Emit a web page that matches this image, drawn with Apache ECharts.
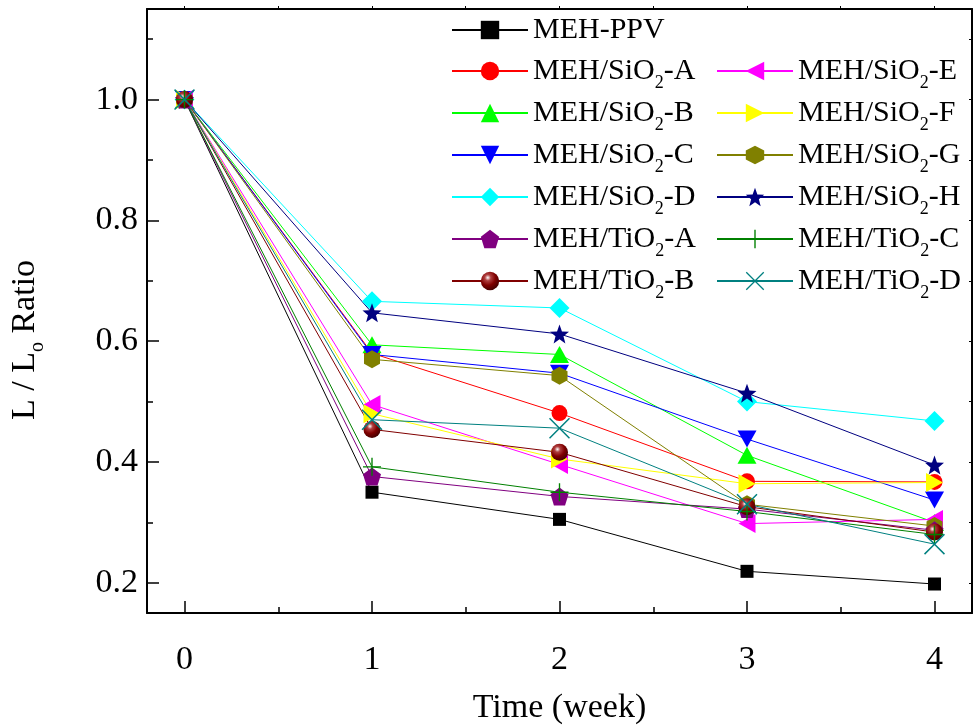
<!DOCTYPE html>
<html>
<head>
<meta charset="utf-8">
<script src="https://cdn.jsdelivr.net/npm/echarts@6/dist/echarts.min.js"></script>
<style>
  html, body { margin: 0; padding: 0; background: #fff; }
  #chart { width: 975px; height: 726px; }
</style>
</head>
<body>
<div id="chart"></div>
<script>
// Luminance decay of MEH-PPV and its SiO2 / TiO2 composites over four weeks
const weeks = [0, 1, 2, 3, 4];
const xTicks = [0, 1, 2, 3, 4];
const xMinorTicks = [0.5, 1.5, 2.5, 3.5];
const yTicks = [0.2, 0.4, 0.6, 0.8, 1.0];
const yMinorTicks = [0.3, 0.5, 0.7, 0.9, 1.1];

const mehPpv = [1.0, 0.350, 0.305, 0.219, 0.198];
const sio2A  = [1.0, 0.580, 0.481, 0.368, 0.367];
const sio2B  = [1.0, 0.594, 0.578, 0.411, 0.300];
const sio2C  = [1.0, 0.578, 0.547, 0.438, 0.337];
const sio2D  = [1.0, 0.666, 0.655, 0.500, 0.468];
const sio2E  = [1.0, 0.495, 0.396, 0.298, 0.305];
const sio2F  = [1.0, 0.480, 0.405, 0.364, 0.366];
const sio2G  = [1.0, 0.570, 0.543, 0.330, 0.294];
const sio2H  = [1.0, 0.647, 0.612, 0.514, 0.395];
const tio2A  = [1.0, 0.376, 0.343, 0.322, 0.287];
const tio2B  = [1.0, 0.454, 0.416, 0.326, 0.284];
const tio2C  = [1.0, 0.392, 0.350, 0.318, 0.280];
const tio2D  = [1.0, 0.470, 0.456, 0.330, 0.264];

const FONT = '"Liberation Serif", "Times New Roman", serif';

// polygon symbol paths
function polygonPath(n, innerRatio) {
  const pts = [];
  const count = innerRatio ? n * 2 : n;
  for (let i = 0; i < count; i++) {
    const r = innerRatio && i % 2 === 1 ? innerRatio : 1;
    const a = -Math.PI / 2 + i * Math.PI * 2 / count;
    pts.push(((1 + r * Math.cos(a)) * 50).toFixed(2) + ',' + ((1 + r * Math.sin(a)) * 50).toFixed(2));
  }
  return 'path://M' + pts.join(' L') + ' Z';
}
const STAR = polygonPath(5, 0.42);
const PENTAGON = polygonPath(5);
const HEXAGON = 'path://M0.5,0 L1,0.25 L1,0.75 L0.5,1 L0,0.75 L0,0.25 Z';
const TRI_DOWN = 'path://M0,0 L1,0 L0.5,1 Z';
const TRI_LEFT = 'path://M0,0.5 L1,0 L1,1 Z';
const TRI_RIGHT = 'path://M0,0 L1,0.5 L0,1 Z';
const PLUS = 'path://M9.25,0 L10.75,0 L10.75,9.25 L20,9.25 L20,10.75 L10.75,10.75 L10.75,20 L9.25,20 L9.25,10.75 L0,10.75 L0,9.25 L9.25,9.25 Z';
const CROSS = 'path://M0,1 L1,0 L10,9 L19,0 L20,1 L11,10 L20,19 L19,20 L10,11 L1,20 L0,19 L9,10 Z';

const sphere = {
  type: 'radial', x: 0.38, y: 0.32, r: 0.75,
  colorStops: [
    { offset: 0, color: '#ffffff' },
    { offset: 0.22, color: '#b04040' },
    { offset: 0.55, color: '#800000' },
    { offset: 1, color: '#3a0000' }
  ]
};

const seriesDefs = [
  { name: 'MEH-PPV',    values: mehPpv, color: '#000000', symbol: 'rect',     size: 13 },
  { name: 'MEH/SiO2-A', values: sio2A,  color: '#ff0000', symbol: 'circle',   size: 16 },
  { name: 'MEH/SiO2-B', values: sio2B,  color: '#00ff00', symbol: 'triangle', size: [19, 17] },
  { name: 'MEH/SiO2-C', values: sio2C,  color: '#0000ff', symbol: TRI_DOWN,   size: [19, 17] },
  { name: 'MEH/SiO2-D', values: sio2D,  color: '#00ffff', symbol: 'diamond',  size: [20, 20] },
  { name: 'MEH/SiO2-E', values: sio2E,  color: '#ff00ff', symbol: TRI_LEFT,   size: [17, 19] },
  { name: 'MEH/SiO2-F', values: sio2F,  color: '#ffff00', symbol: TRI_RIGHT,  size: [17, 19] },
  { name: 'MEH/SiO2-G', values: sio2G,  color: '#808000', symbol: HEXAGON,    size: [16, 18] },
  { name: 'MEH/SiO2-H', values: sio2H,  color: '#000080', symbol: STAR,       size: 19 },
  { name: 'MEH/TiO2-A', values: tio2A,  color: '#800080', symbol: PENTAGON,   size: 18 },
  { name: 'MEH/TiO2-B', values: tio2B,  color: '#800000', symbol: 'circle',   size: 17, fill: sphere },
  { name: 'MEH/TiO2-C', values: tio2C,  color: '#008000', symbol: PLUS,       size: 18 },
  { name: 'MEH/TiO2-D', values: tio2D,  color: '#008080', symbol: CROSS,      size: 21 }
];

const series = seriesDefs.map(d => ({
  name: d.name,
  type: 'line',
  xAxisIndex: 0,
  yAxisIndex: 0,
  data: weeks.map((w, i) => [w, d.values[i]]),
  symbol: d.symbol,
  symbolSize: d.size,
  showAllSymbol: true,
  color: d.color,
  lineStyle: { color: d.color, width: 1 },
  itemStyle: { color: d.fill || d.color, borderWidth: 0, opacity: 1 },
  emphasis: { disabled: true },
  z: 3
}));

const legendText = {
  fontFamily: FONT,
  fontSize: 30,
  color: '#000',
  lineHeight: 40,
  rich: {
    sub: { fontFamily: FONT, fontSize: 18, lineHeight: 18, padding: [24, 0, 0, 0], color: '#000' }
  }
};
const legendFormatter = name => name.replace('O2', 'O{sub|2}');

const legendBase = {
  orient: 'vertical',
  padding: 0,
  itemGap: 0,
  itemWidth: 76,
  itemHeight: 23,
  textStyle: legendText,
  formatter: legendFormatter,
  selectedMode: false
};

const axisLineStyle = { color: '#000', width: 2 };
const tickLabelStyle = { fontFamily: FONT, fontSize: 34, color: '#000' };

const option = {
  animation: false,
  backgroundColor: '#ffffff',
  grid: { left: 147, right: 3, top: 9, bottom: 113, containLabel: false, outerBoundsMode: 'none' },
  legend: [
    Object.assign({}, legendBase, {
      left: 451, top: 10,
      data: ['MEH-PPV', 'MEH/SiO2-A', 'MEH/SiO2-B', 'MEH/SiO2-C', 'MEH/SiO2-D', 'MEH/TiO2-A', 'MEH/TiO2-B']
    }),
    Object.assign({}, legendBase, {
      left: 716, top: 50,
      data: ['MEH/SiO2-E', 'MEH/SiO2-F', 'MEH/SiO2-G', 'MEH/SiO2-H', 'MEH/TiO2-C', 'MEH/TiO2-D']
    })
  ],
  xAxis: [
    {
      type: 'value', min: -0.2, max: 4.2, position: 'bottom',
      name: 'Time (week)', nameLocation: 'middle', nameGap: 78,
      nameTextStyle: { fontFamily: FONT, fontSize: 34, color: '#000' },
      axisLine: { show: true, onZero: false, lineStyle: axisLineStyle },
      axisTick: { show: true, inside: true, length: 12, customValues: xTicks, lineStyle: { color: '#000', width: 1.5 } },
      axisLabel: { show: true, customValues: xTicks, margin: 30, formatter: v => String(Math.round(v)), ...tickLabelStyle },
      splitLine: { show: false }
    },
    {
      type: 'value', min: -0.2, max: 4.2, position: 'bottom',
      axisLine: { show: false, onZero: false },
      axisTick: { show: true, inside: true, length: 6, customValues: xMinorTicks, lineStyle: { color: '#000', width: 1.5 } },
      axisLabel: { show: false },
      splitLine: { show: false }
    },
    {
      type: 'value', min: -0.2, max: 4.2, position: 'top',
      axisLine: { show: true, onZero: false, lineStyle: axisLineStyle },
      axisTick: { show: true, inside: false, length: 3, customValues: xTicks.concat(xMinorTicks), lineStyle: { color: '#000', width: 1 } },
      axisLabel: { show: false },
      splitLine: { show: false }
    }
  ],
  yAxis: [
    {
      type: 'value', min: 0.15, max: 1.15, position: 'left',
      name: 'L / L{sub|o} Ratio', nameLocation: 'middle', nameGap: 100, nameRotate: 90,
      nameTextStyle: {
        fontFamily: FONT, fontSize: 34, color: '#000', lineHeight: 44,
        padding: [0, 58, 0, 0],
        rich: { sub: { fontFamily: FONT, fontSize: 20, lineHeight: 20, padding: [26, 0, 0, 0], color: '#000' } }
      },
      axisLine: { show: true, onZero: false, lineStyle: axisLineStyle },
      axisTick: { show: true, inside: true, length: 12, customValues: yTicks, lineStyle: { color: '#000', width: 1.5 } },
      axisLabel: { show: true, customValues: yTicks, margin: 9, formatter: v => v.toFixed(1), ...tickLabelStyle },
      splitLine: { show: false }
    },
    {
      type: 'value', min: 0.15, max: 1.15, position: 'left',
      axisLine: { show: false, onZero: false },
      axisTick: { show: true, inside: true, length: 6, customValues: yMinorTicks, lineStyle: { color: '#000', width: 1.5 } },
      axisLabel: { show: false },
      splitLine: { show: false }
    },
    {
      type: 'value', min: 0.15, max: 1.15, position: 'right',
      axisLine: { show: true, onZero: false, lineStyle: axisLineStyle },
      axisTick: { show: true, inside: true, length: 3, customValues: yTicks.concat(yMinorTicks), lineStyle: { color: '#000', width: 1 } },
      axisLabel: { show: false },
      splitLine: { show: false }
    }
  ],
  series: series
};

const chart = echarts.init(document.getElementById('chart'), null, { renderer: 'canvas' });
chart.setOption(option);
</script>
</body>
</html>
